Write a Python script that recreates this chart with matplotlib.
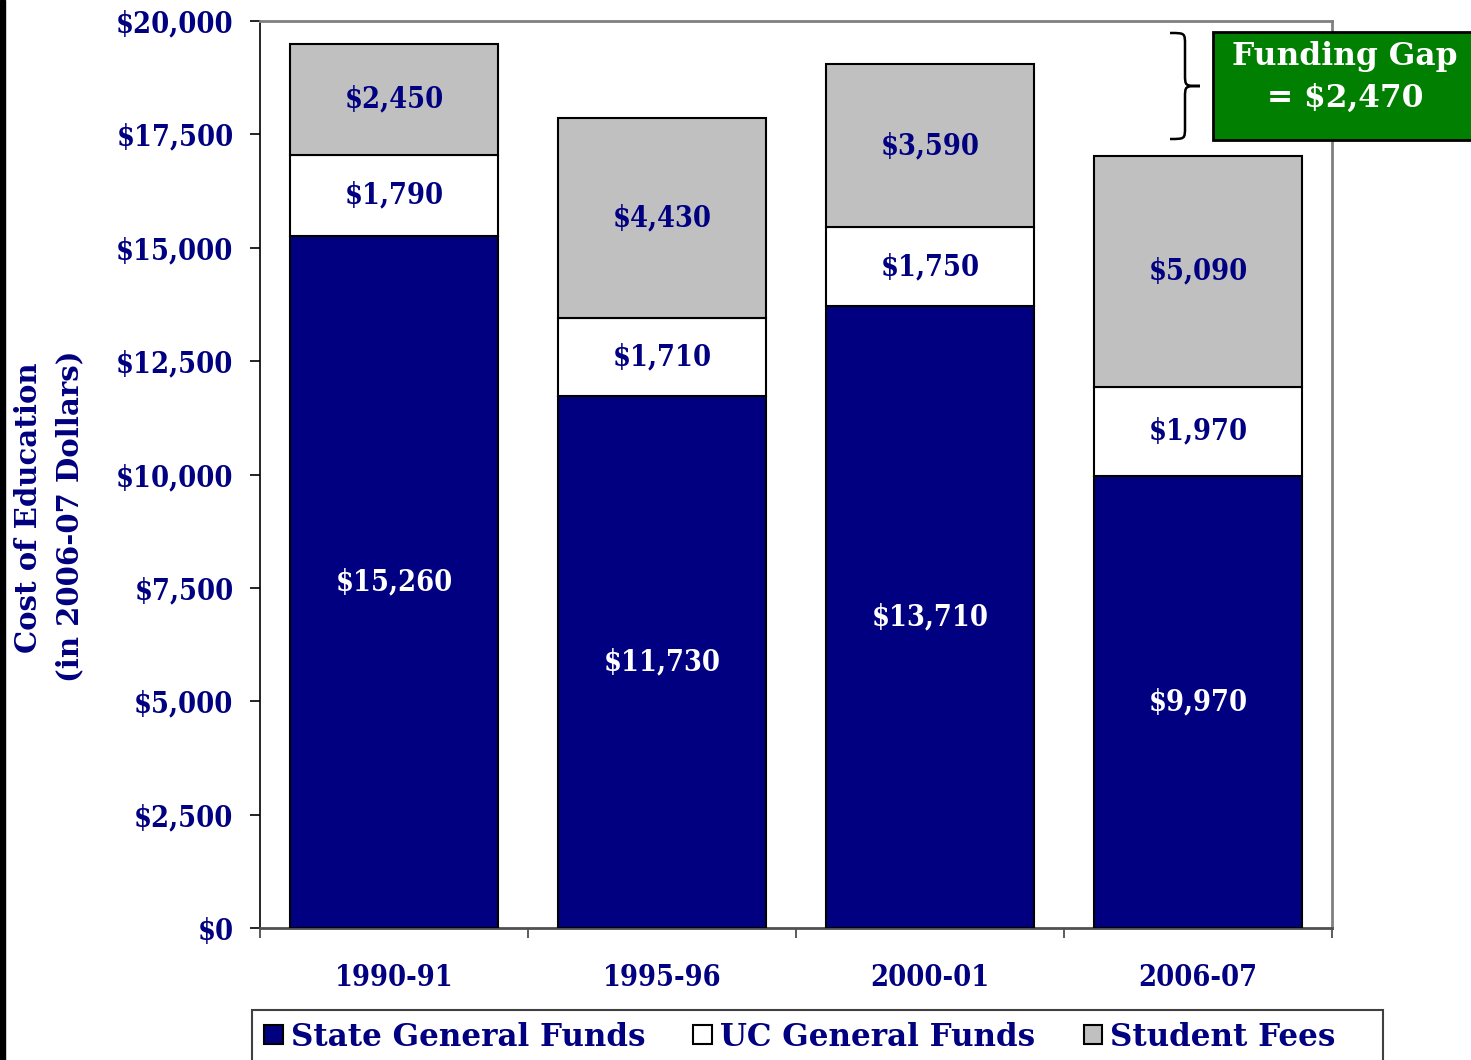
import matplotlib
matplotlib.use("Agg")
import matplotlib.pyplot as plt
from matplotlib.patches import Rectangle, PathPatch
from matplotlib.path import Path
from matplotlib.font_manager import FontProperties
import numpy as np

years = ["1990-91", "1995-96", "2000-01", "2006-07"]
state_funds = [15260, 11730, 13710, 9970]
uc_funds = [1790, 1710, 1750, 1970]
student_fees = [2450, 4430, 3590, 5090]
y_ticks = [0, 2500, 5000, 7500, 10000, 12500, 15000, 17500, 20000]
gap_text = "Funding Gap\n= $2,470"

NAVY = "#000080"
GRAY = "#C0C0C0"
GREEN = "#007F00"

W, H = 1471, 1060
FS = 20.7
fp = FontProperties(family="DejaVu Serif", weight="bold", stretch="condensed", size=FS)
fp_ylab = FontProperties(family="DejaVu Serif", weight="bold", size=21)

fig = plt.figure(figsize=(W / 100, H / 100), dpi=100)
ax = fig.add_axes([260 / W, 1 - 928 / H, (1332 - 260) / W, (928 - 21) / H])

x = np.arange(len(years))
bw = 0.776
ax.bar(x, state_funds, bw, color=NAVY, edgecolor="black", linewidth=1.5, label="State General Funds", zorder=3)
ax.bar(x, uc_funds, bw, bottom=state_funds, color="white", edgecolor="black", linewidth=1.5, label="UC General Funds", zorder=3)
bottom2 = np.array(state_funds) + np.array(uc_funds)
ax.bar(x, student_fees, bw, bottom=bottom2, color=GRAY, edgecolor="black", linewidth=1.5, label="Student Fees", zorder=3)

for i in range(len(years)):
    ax.text(x[i], state_funds[i] / 2, f"${state_funds[i]:,}", ha="center", va="center",
            color="white", fontproperties=fp, zorder=4)
    ax.text(x[i], state_funds[i] + uc_funds[i] / 2, f"${uc_funds[i]:,}", ha="center", va="center",
            color=NAVY, fontproperties=fp, zorder=4)
    ax.text(x[i], bottom2[i] + student_fees[i] / 2, f"${student_fees[i]:,}", ha="center", va="center",
            color=NAVY, fontproperties=fp, zorder=4)

ax.set_xlim(-0.5, len(years) - 0.5)
ax.set_ylim(0, 20000)
ax.set_yticks(y_ticks)
ax.set_yticklabels([f"${v:,}" for v in y_ticks], fontproperties=fp, color=NAVY)
ax.tick_params(axis="y", length=7, width=1.2, pad=12, color="black")
ax.set_xticks(x)
ax.set_xticklabels(years, fontproperties=fp, color=NAVY)
ax.set_xticks(np.arange(-0.5, len(years), 1.0), minor=True)
ax.tick_params(axis="x", which="major", length=0, pad=25)
ax.tick_params(axis="x", which="minor", length=7, width=1.2, color="#404040")

ax.spines["left"].set_color("black")
ax.spines["left"].set_linewidth(1.2)
for s in ["top", "right", "bottom"]:
    ax.spines[s].set_color("#808080")
    ax.spines[s].set_linewidth(2)
ax.spines["bottom"].set_color("#505050")

fig.text(29 / W, 1 - 508 / H, "Cost of Education", rotation=90, ha="center", va="center",
         fontproperties=fp_ylab, color=NAVY)
fig.text(70 / W, 1 - 516 / H, "(in 2006-07 Dollars)", rotation=90, ha="center", va="center",
         fontproperties=fp_ylab, color=NAVY)

# left black strip
fig.patches.append(Rectangle((0, 0), 5 / W, 1, transform=fig.transFigure, color="black", zorder=10))

# green funding gap box
fig.patches.append(Rectangle((1213 / W, 1 - 140 / H), (W - 1213 + 10) / W, 108 / H,
                             transform=fig.transFigure, facecolor=GREEN, edgecolor="black",
                             linewidth=2, zorder=10))
fig.text(1345 / W, 1 - 77 / H, gap_text, ha="center", va="center", color="white",
         family="DejaVu Serif", fontweight="bold", fontsize=22.5, linespacing=1.45, zorder=11)

# curly brace (pixel coords converted to figure fraction)
def brace(x0, y_top, y_bot, depth):
    ym = (y_top + y_bot) / 2
    d = depth
    verts = [
        (x0, y_top),
        (x0 + d * 0.5, y_top), (x0 + d * 0.5, y_top), (x0 + d * 0.5, y_top + 12),
        (x0 + d * 0.5, ym - 12),
        (x0 + d * 0.5, ym), (x0 + d * 0.5, ym), (x0 + d, ym),
        (x0 + d * 0.5, ym), (x0 + d * 0.5, ym), (x0 + d * 0.5, ym + 12),
        (x0 + d * 0.5, y_bot - 12),
        (x0 + d * 0.5, y_bot), (x0 + d * 0.5, y_bot), (x0, y_bot),
    ]
    codes = [Path.MOVETO, Path.CURVE4, Path.CURVE4, Path.CURVE4, Path.LINETO,
             Path.CURVE4, Path.CURVE4, Path.CURVE4, Path.CURVE4, Path.CURVE4, Path.CURVE4,
             Path.LINETO, Path.CURVE4, Path.CURVE4, Path.CURVE4]
    verts = [(vx / W, 1 - vy / H) for vx, vy in verts]
    return PathPatch(Path(verts, codes), transform=fig.transFigure, fill=False,
                     edgecolor="black", linewidth=1.8, zorder=10)

fig.patches.append(brace(1170, 33, 139, 30))

# legend frame
fig.patches.append(Rectangle((252 / W, -0.05), (1383 - 252) / W, 0.05 + 1 - 1010 / H,
                             transform=fig.transFigure, facecolor="white", edgecolor="#404040",
                             linewidth=1.5, zorder=1))
leg = fig.legend(*ax.get_legend_handles_labels(), loc="center left",
                 bbox_to_anchor=(264 / W, 1 - 1037 / H), bbox_transform=fig.transFigure,
                 ncol=3, frameon=False,
                 prop={"family": "DejaVu Serif", "weight": "bold", "size": 22.3},
                 handlelength=0.6, handleheight=0.6, handletextpad=0.27, columnspacing=1.55,
                 borderpad=0.0, borderaxespad=0)
for t in leg.get_texts():
    t.set_color(NAVY)

fig.savefig("out.png", dpi=100)
